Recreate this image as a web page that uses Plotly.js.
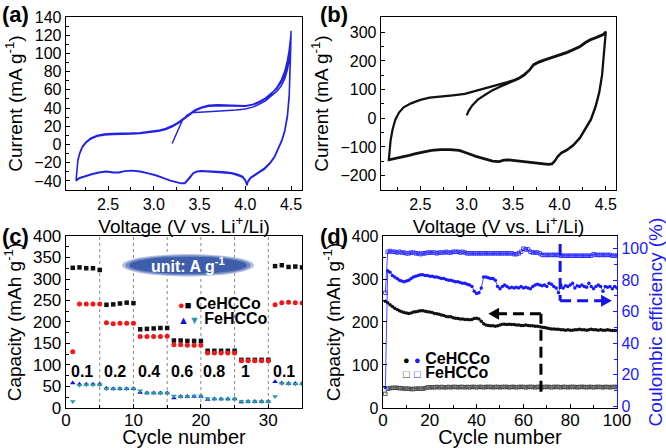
<!DOCTYPE html>
<html><head><meta charset="utf-8">
<script src="https://cdn.plot.ly/plotly-3.0.1.min.js"></script>
<style>html,body{margin:0;padding:0;background:#fff}</style>
</head><body><div id="c" style="width:666px;height:448px"></div>
<script>
// ---------- panel (a): CV, CeHCCo (blue) ----------
const aV = [3.20,3.23,3.27,3.31,3.36,3.42,3.50,3.60,3.70,3.80,3.90,4.00,4.08,4.15,4.22,4.28,4.34,4.39,4.43,4.46,4.48,4.495,4.50,
 4.495,4.49,4.48,4.46,4.43,4.40,4.36,4.32,4.27,4.21,4.15,4.10,4.06,4.03,4.02,4.00,3.97,3.92,3.85,3.75,3.65,3.58,3.52,3.47,3.43,3.40,3.37,3.34,3.30,3.25,3.18,3.10,3.02,2.94,2.85,2.76,2.68,2.62,2.56,2.48,2.40,2.32,2.25,2.19,2.15,
 2.155,2.16,2.17,2.19,2.22,2.26,2.31,2.38,2.46,2.55,2.65,2.75,2.85,2.95,3.05,3.13,3.20,3.27,3.33,3.39,3.45,3.52,3.60,3.70,3.80,3.90,4.00,4.08,4.15,4.22,4.28,4.34,4.39,4.43,4.46,4.48,4.495,4.50,
 4.495,4.49,4.48,4.46,4.43,4.40,4.36,4.32,4.27,4.21,4.15,4.10,4.06,4.03,4.02,4.00,3.97,3.92,3.85,3.75,3.65,3.58,3.52,3.47,3.43,3.40,3.37,3.34,3.30,3.25,3.18,3.10,3.02,2.94,2.85,2.76,2.68,2.62,2.56,2.48,2.40,2.32,2.25,2.19,2.15,
 2.155,2.16,2.17,2.19,2.22,2.26,2.31,2.38,2.46,2.55,2.65,2.75,2.85,2.95,3.05,3.13,3.20,3.27,3.33,3.39,3.45,3.52,3.60,3.70,3.80,3.90,4.00,4.08,4.15,4.22,4.28,4.34,4.39,4.43,4.46,4.48,4.495,4.50];
const aI = [1,8,17,26,32,35,35.5,36,36.5,37,38,39,41,44,48,53,58,64,72,82,93,108,125,
 105,80,55,32,15,5,-5,-13,-20,-26,-30,-33,-36,-40,-45,-40,-36,-34,-32,-31,-30,-29.5,-29.5,-30,-32,-36,-40,-43,-43,-42,-40,-37,-34,-32,-30,-29,-29.5,-31,-31,-30,-31,-33,-35,-37,-40,
 -33,-26,-18,-10,-3,2,6,9,10.5,11,11,11.5,12,13,14.5,16.5,19.5,23.5,28,33,37,40,42,42.5,42.5,42,42,43.5,46,50,55,62,70,80,92,104,115,122,
 100,76,52,30,14,4,-6,-14,-21,-27,-31,-34,-37,-41,-44,-39,-35,-33,-31,-30,-29.5,-29,-29,-29.5,-31.5,-35,-39,-42,-42.5,-41.5,-39.5,-36.5,-33.5,-31.5,-29.5,-28.5,-29,-30.5,-30.5,-29.5,-30.5,-32.5,-34.5,-36.5,-39,
 -32,-25,-17,-9,-2,3,7,10,11.5,12,12,12.5,13,14,15.5,17.5,20.5,24.5,29,34,38,41,43,43.5,43,42.5,42.5,44,47,51,56,61,68,76,86,97,106,112];

// ---------- panel (b): CV, FeHCCo (black) ----------
const bV = [3.00,3.02,3.06,3.12,3.20,3.28,3.36,3.43,3.50,3.56,3.62,3.68,3.72,3.78,3.85,3.92,4.00,4.08,4.15,4.22,4.28,4.33,4.38,4.43,4.47,4.50,
 4.49,4.48,4.46,4.43,4.39,4.34,4.28,4.22,4.15,4.08,4.02,3.98,3.95,3.92,3.88,3.82,3.74,3.65,3.55,3.45,3.40,3.35,3.28,3.20,3.10,3.00,2.92,2.82,2.72,2.62,2.52,2.45,2.38,2.30,2.22,2.16,
 2.17,2.18,2.20,2.23,2.27,2.32,2.40,2.50,2.60,2.72,2.85,2.98,3.10,3.22,3.34,3.43,3.50,3.56,3.62,3.68,3.72,3.78,3.85,3.92,4.00,4.08,4.15,4.22,4.28,4.33,4.38,4.43,4.47,4.50,
 4.49,4.48,4.46,4.43,4.39,4.34,4.28,4.22,4.15,4.08,4.02,3.98,3.95,3.92,3.88,3.82,3.74,3.65,3.55,3.45,3.40,3.35,3.28,3.20,3.10,3.00,2.92,2.82,2.72,2.62,2.52,2.45,2.38,2.30,2.22,2.16];
const bI = [10,25,45,65,82,98,110,120,128,138,150,168,185,195,203,210,218,228,238,248,262,272,278,284,290,300,
 260,210,150,90,40,-5,-40,-70,-95,-112,-122,-135,-150,-160,-162,-160,-157,-154,-150,-146,-147,-152,-150,-144,-134,-122,-113,-110,-110,-113,-118,-124,-130,-136,-142,-146,
 -110,-75,-40,-5,20,38,52,64,72,77,80,85,95,106,117,125,132,140,153,170,188,198,206,213,221,231,241,251,265,275,281,287,293,302,
 262,212,152,92,42,-3,-38,-68,-93,-110,-120,-133,-148,-158,-160,-158,-155,-152,-148,-144,-145,-150,-148,-142,-132,-120,-111,-108,-108,-111,-116,-122,-128,-134,-140,-144];

// ---------- panel (c): rate capability ----------
const cycC = Array.from({length:35},(_, i)=>i+1);
const ceCharge = [326,327,325,325,321, 240,241,243,245,244, 183,184,185,186,186, 157,157,156,156,156, 133,133,133,133,133, 112,112,112,112,112, 330,332,328,329,327];
const ceDis    = [131,242,242,242,242, 198,196,197,197,197, 166,166,166,166,167, 147,147,146,146,146, 128,128,128,128,128, 110,110,110,110,110, 240,245,246,245,244];
const feCharge = [58,55,55,55,55, 46,45,45,45,45, 36,35,35,35,35, 23,27,27,27,27, 20,21,21,21,21, 14,15,15,15,15, 61,58,57,57,57];
const feDis    = [15,53,54,54,54, 45,45,45,45,45, 40,35,35,35,35, 28,27,27,28,28, 22,21,21,21,21, 15,15,15,15,15, 27,57,57,56,56];
const rateLabels = ["0.1","0.2","0.4","0.6","0.8","1","0.1"];
const rateLabelX = [2.4,7.3,12.3,17.2,21.9,26.6,32.3];
const rateBounds = [5,10,15,20,25,30];

// ---------- panel (d): cycling ----------
const cycD = Array.from({length:100},(_, i)=>i+1);
const capCe = [248,245,240,236,232,229,226,224,222,221,
 220,221,223,224,225,226,226,225,224,223,
 222,220,219,218,216,215,213,212,212,210,
 209,208,207,207,206,206,205,206,208,209,
 207,202,196,193,192,191,191,190,191,193,
 195,195,194,195,194,194,193,193,192,192,
 193,192,191,191,190,190,189,188,187,186,
 185,184,184,183,183,182,182,181,182,181,
 181,182,182,183,182,182,181,182,183,182,
 182,181,182,181,181,182,181,180,180,180];
const capFe = [33,45,46,47,47,47,46,46,45,45,
 45,44,44,45,45,45,45,46,48,48,
 48,48,49,48,49,48,48,49,48,49,
 49,48,49,49,48,49,48,49,49,48,
 49,49,48,49,49,49,48,49,49,48,
 49,49,49,48,49,49,48,49,49,49,
 48,49,49,49,48,49,49,48,49,49,
 49,48,49,49,49,48,49,49,48,49,
 49,49,48,49,49,49,48,49,49,48,
 49,49,49,48,49,49,48,49,49,49];
const ceEffCe = [12,86,85,83,82,81,80,79.5,79,79.5,
 80,81,82,82.5,83,83.5,83.5,83,83,82.5,
 82.5,82,82,81.5,81,81,80.5,80,80,79.5,
 79,79,78.5,78,78,77.5,77,76,73,71.5,
 72,75,82,82,81.5,81,81,80,76,74.5,
 76,77,76,75,75.5,75,75.5,75,76,75,
 75.5,75,74.5,76,77,77.5,77,76.5,77,76,
 78,77.5,76,75,72,77,75,76.5,76,77,
 78,75,76.5,76,77,76,75.5,78,76,74.5,
 76,77,76,73,76,75.5,76,74.5,76,75];
const ceEffFe = [72,98,98.5,98,98,97.5,98,97.5,97.5,97,
 97,97.5,97.5,97,97,96.5,97,97,97.5,97.5,
 97.5,97.5,97,97.5,97.5,97.5,98,97.5,97.5,98,
 98,98,97.5,98,97.5,97,97,97,97,97,
 97,97,97,97,97,97,97,97,97,97,
 97,97,97,97,97,96.5,96.5,97,98,100,
 99.5,99.5,98,97.5,97.5,97.5,97,96,96,96,
 96,96,96,96,96,95.5,95.5,95.5,95.5,95.5,
 95.5,95.5,95.5,95.5,95.5,95.5,95.5,95.5,95.5,96.5,
 96,96,96,96,96,96,96,95.5,95.5,95.5];

const FONT = "Arial, Liberation Sans, sans-serif";
const BLUE = "#1a1aff";
const RED = "#f01818";
const TEAL = "#2a9c9c";

const traces = [
  {x:aV, y:aI, xaxis:'x', yaxis:'y', mode:'lines', line:{color:'#2222e6', width:1.5}},
  {x:bV, y:bI, xaxis:'x2', yaxis:'y2', mode:'lines', line:{color:'#111', width:2.2}},
  {x:cycC, y:ceCharge, xaxis:'x3', yaxis:'y3', mode:'markers', marker:{symbol:'square', size:4.5, color:'#111'}},
  {x:cycC, y:ceDis, xaxis:'x3', yaxis:'y3', mode:'markers', marker:{symbol:'circle', size:5, color:RED}},
  {x:cycC, y:feCharge, xaxis:'x3', yaxis:'y3', mode:'markers', marker:{symbol:'triangle-up', size:5, color:'#1010e0'}},
  {x:cycC, y:feDis, xaxis:'x3', yaxis:'y3', mode:'markers', marker:{symbol:'triangle-down', size:5, color:TEAL}},
  {x:cycD, y:capFe, xaxis:'x4', yaxis:'y4', mode:'lines+markers', line:{color:'#777', width:0.8}, marker:{symbol:'square-open', size:3.5, color:'#333', line:{width:0.8}}},
  {x:cycD, y:capCe, xaxis:'x4', yaxis:'y4', mode:'lines+markers', line:{color:'#111', width:1}, marker:{symbol:'circle', size:3.5, color:'#111'}},
  {x:cycD, y:ceEffFe, xaxis:'x4', yaxis:'y5', mode:'lines+markers', line:{color:BLUE, width:0.8}, marker:{symbol:'square-open', size:3.5, color:BLUE, line:{width:0.8}}},
  {x:cycD, y:ceEffCe, xaxis:'x4', yaxis:'y5', mode:'lines+markers', line:{color:BLUE, width:0.8}, marker:{symbol:'circle', size:3.5, color:BLUE}}
];

function ax(extra){
  return Object.assign({
    showline:true, linecolor:'#000', linewidth:1.3, mirror:true,
    ticks:'inside', ticklen:4, tickwidth:1, tickcolor:'#000',
    showgrid:false, zeroline:false,
    tickfont:{family:FONT, size:16, color:'#000'},
    minor:{ticks:'inside', ticklen:2.5, tickwidth:1, tickcolor:'#000'}
  }, extra);
}
const tf = (t, sz, c, so) => ({text:t, standoff:so, font:{family:FONT, size:sz, color:c||'#000'}});

const xa = [0.0991, 0.4535], xb = [0.5721, 0.9249], xd = [0.5751, 0.9264];
const yTop = [0.5759, 0.962], yBot = [0.0893, 0.4732];

const shapes = rateBounds.map(v => ({type:'line', xref:'x3', yref:'y3', x0:v, x1:v, y0:0, y1:400, line:{color:'#888', width:1, dash:'dot'}, layer:'below'}));
// unit ellipse
shapes.push({type:'circle', xref:'x3', yref:'y3', x0:8.3, x1:27.9, y0:306, y1:358, fillcolor:'#b4c1e0', line:{width:0}, layer:'above'});
shapes.push({type:'circle', xref:'x3', yref:'y3', x0:8.8, x1:27.4, y0:309, y1:355, fillcolor:'#7188c4', line:{width:0}, layer:'above'});
shapes.push({type:'circle', xref:'x3', yref:'y3', x0:9.4, x1:26.8, y0:312, y1:352, fillcolor:'#3e5daa', line:{width:0}, layer:'above'});
// dashed arrows in (d)
const DASH = '11px,6px';
shapes.push({type:'line', xref:'x4', yref:'y4', x0:67.5, x1:67.5, y0:38, y1:219, line:{color:'#000', width:3, dash:DASH}});
shapes.push({type:'line', xref:'x4', yref:'y4', x0:67.5, x1:49, y0:219, y1:219, line:{color:'#000', width:3, dash:DASH}});
shapes.push({type:'path', xref:'x4', yref:'y4', path:'M45,219 L49.6,233 L49.6,205 Z', fillcolor:'#000', line:{width:0}});
shapes.push({type:'line', xref:'x4', yref:'y5', x0:75.7, x1:75.7, y0:103, y1:67, line:{color:'#1515e8', width:3, dash:DASH}});
shapes.push({type:'line', xref:'x4', yref:'y5', x0:75.7, x1:94, y0:67, y1:67, line:{color:'#1515e8', width:3, dash:DASH}});
shapes.push({type:'path', xref:'x4', yref:'y5', path:'M97.8,67 L93.2,70.8 L93.2,63.2 Z', fillcolor:'#1515e8', line:{width:0}});

const sm = (c, g) => '<span style="color:'+c+';font-size:11px">'+g+'</span>';
const annotations = [
  {text:'<b>(a)</b>', xref:'paper', yref:'paper', x:0, y:1.0, xanchor:'left', yanchor:'top', showarrow:false, font:{family:FONT, size:22, color:'#000'}},
  {text:'<b>(b)</b>', xref:'paper', yref:'paper', x:0.477, y:1.0, xanchor:'left', yanchor:'top', showarrow:false, font:{family:FONT, size:22, color:'#000'}},
  {text:'<b>(c)</b>', xref:'paper', yref:'paper', x:0, y:0.505, xanchor:'left', yanchor:'top', showarrow:false, font:{family:FONT, size:22, color:'#000'}},
  {text:'<b>(d)</b>', xref:'paper', yref:'paper', x:0.477, y:0.505, xanchor:'left', yanchor:'top', showarrow:false, font:{family:FONT, size:22, color:'#000'}},
  {text:'<b>unit: A g<sup>-1</sup></b>', xref:'x3', yref:'y3', x:18.1, y:333, showarrow:false, font:{family:FONT, size:16, color:'#fff'}},
  {text:sm(RED,'●')+sm('#000','■')+' <b>CeHCCo</b>', xref:'x3', yref:'y3', x:16.3, y:243, xanchor:'left', showarrow:false, font:{family:FONT, size:16, color:'#000'}},
  {text:sm('#1010e0','▲')+sm(TEAL,'▼')+' <b>FeHCCo</b>', xref:'x3', yref:'y3', x:16.3, y:207, xanchor:'left', showarrow:false, font:{family:FONT, size:16, color:'#000'}},
  {text:sm('#000','●')+' '+sm(BLUE,'●')+' <b>CeHCCo</b>', xref:'x4', yref:'y4', x:7.5, y:114, xanchor:'left', showarrow:false, font:{family:FONT, size:16, color:'#000'}},
  {text:sm('#333','□')+' '+sm(BLUE,'□')+' <b>FeHCCo</b>', xref:'x4', yref:'y4', x:7.5, y:83, xanchor:'left', showarrow:false, font:{family:FONT, size:16, color:'#000'}}
];
rateLabels.forEach((t,i)=>annotations.push({text:'<b>'+t+'</b>', xref:'x3', yref:'y3', x:rateLabelX[i], y:85, showarrow:false, font:{family:FONT, size:16, color:'#000'}}));

const layout = {
  width:666, height:448, margin:{l:0,r:0,t:0,b:0}, showlegend:false,
  paper_bgcolor:'#fff', plot_bgcolor:'#fff',
  xaxis: ax({domain:xa, anchor:'y', range:[2.04,4.62], tick0:2.5, dtick:0.5, tickformat:'.1f', minor:{dtick:0.25, ticks:'inside', ticklen:2.5}, title:tf('Voltage (V vs. Li<sup>+</sup>/Li)',19,null,0)}),
  yaxis: ax({domain:yTop, anchor:'x', range:[-50,140], dtick:20, minor:{dtick:10, ticks:'inside', ticklen:2.5}, title:tf('Current (mA g<sup>-1</sup>)',19,null,6)}),
  xaxis2: ax({domain:xb, anchor:'y2', range:[2.076,4.61], tick0:2.5, dtick:0.5, tickformat:'.1f', minor:{dtick:0.25, ticks:'inside', ticklen:2.5}, title:tf('Voltage (V vs. Li<sup>+</sup>/Li)',19,null,0)}),
  yaxis2: ax({domain:yTop, anchor:'x2', range:[-250,353], dtick:100, minor:{dtick:50, ticks:'inside', ticklen:2.5}, title:tf('Current (mA g<sup>-1</sup>)',19,null,6)}),
  xaxis3: ax({domain:xa, anchor:'y3', range:[0,35], dtick:10, minor:{dtick:5, ticks:'inside', ticklen:2.5}, tickfont:{family:FONT, size:17, color:'#000'}, ticklabelstandoff:-4, title:tf('Cycle number',20,null,0)}),
  yaxis3: ax({domain:yBot, anchor:'x3', range:[0,400], dtick:50, minor:{dtick:25, ticks:'inside', ticklen:2.5}, tickfont:{family:FONT, size:17, color:'#000'}, title:tf('Capacity (mAh g<sup>-1</sup>)',19,null,6)}),
  xaxis4: ax({domain:xd, anchor:'y4', range:[0,100], dtick:20, minor:{dtick:10, ticks:'inside', ticklen:2.5}, tickfont:{family:FONT, size:17, color:'#000'}, ticklabelstandoff:-4, title:tf('Cycle number',20,null,0)}),
  yaxis4: ax({domain:yBot, anchor:'x4', range:[0,400], dtick:100, minor:{dtick:50, ticks:'inside', ticklen:2.5}, mirror:false, title:tf('Capacity (mAh g<sup>-1</sup>)',19,null,6)}),
  yaxis5: ax({domain:yBot, anchor:'x4', overlaying:'y4', side:'right', range:[-1,108], dtick:20, mirror:false, linecolor:BLUE, tickcolor:BLUE, minor:{dtick:10, ticks:'inside', ticklen:2.5, tickcolor:BLUE}, tickfont:{family:FONT, size:16, color:BLUE}, title:tf('Coulombic efficiency (%)',19,BLUE,2)}),
  shapes:shapes, annotations:annotations
};
Plotly.newPlot('c', traces, layout, {displayModeBar:false, staticPlot:true});
</script></body></html>
